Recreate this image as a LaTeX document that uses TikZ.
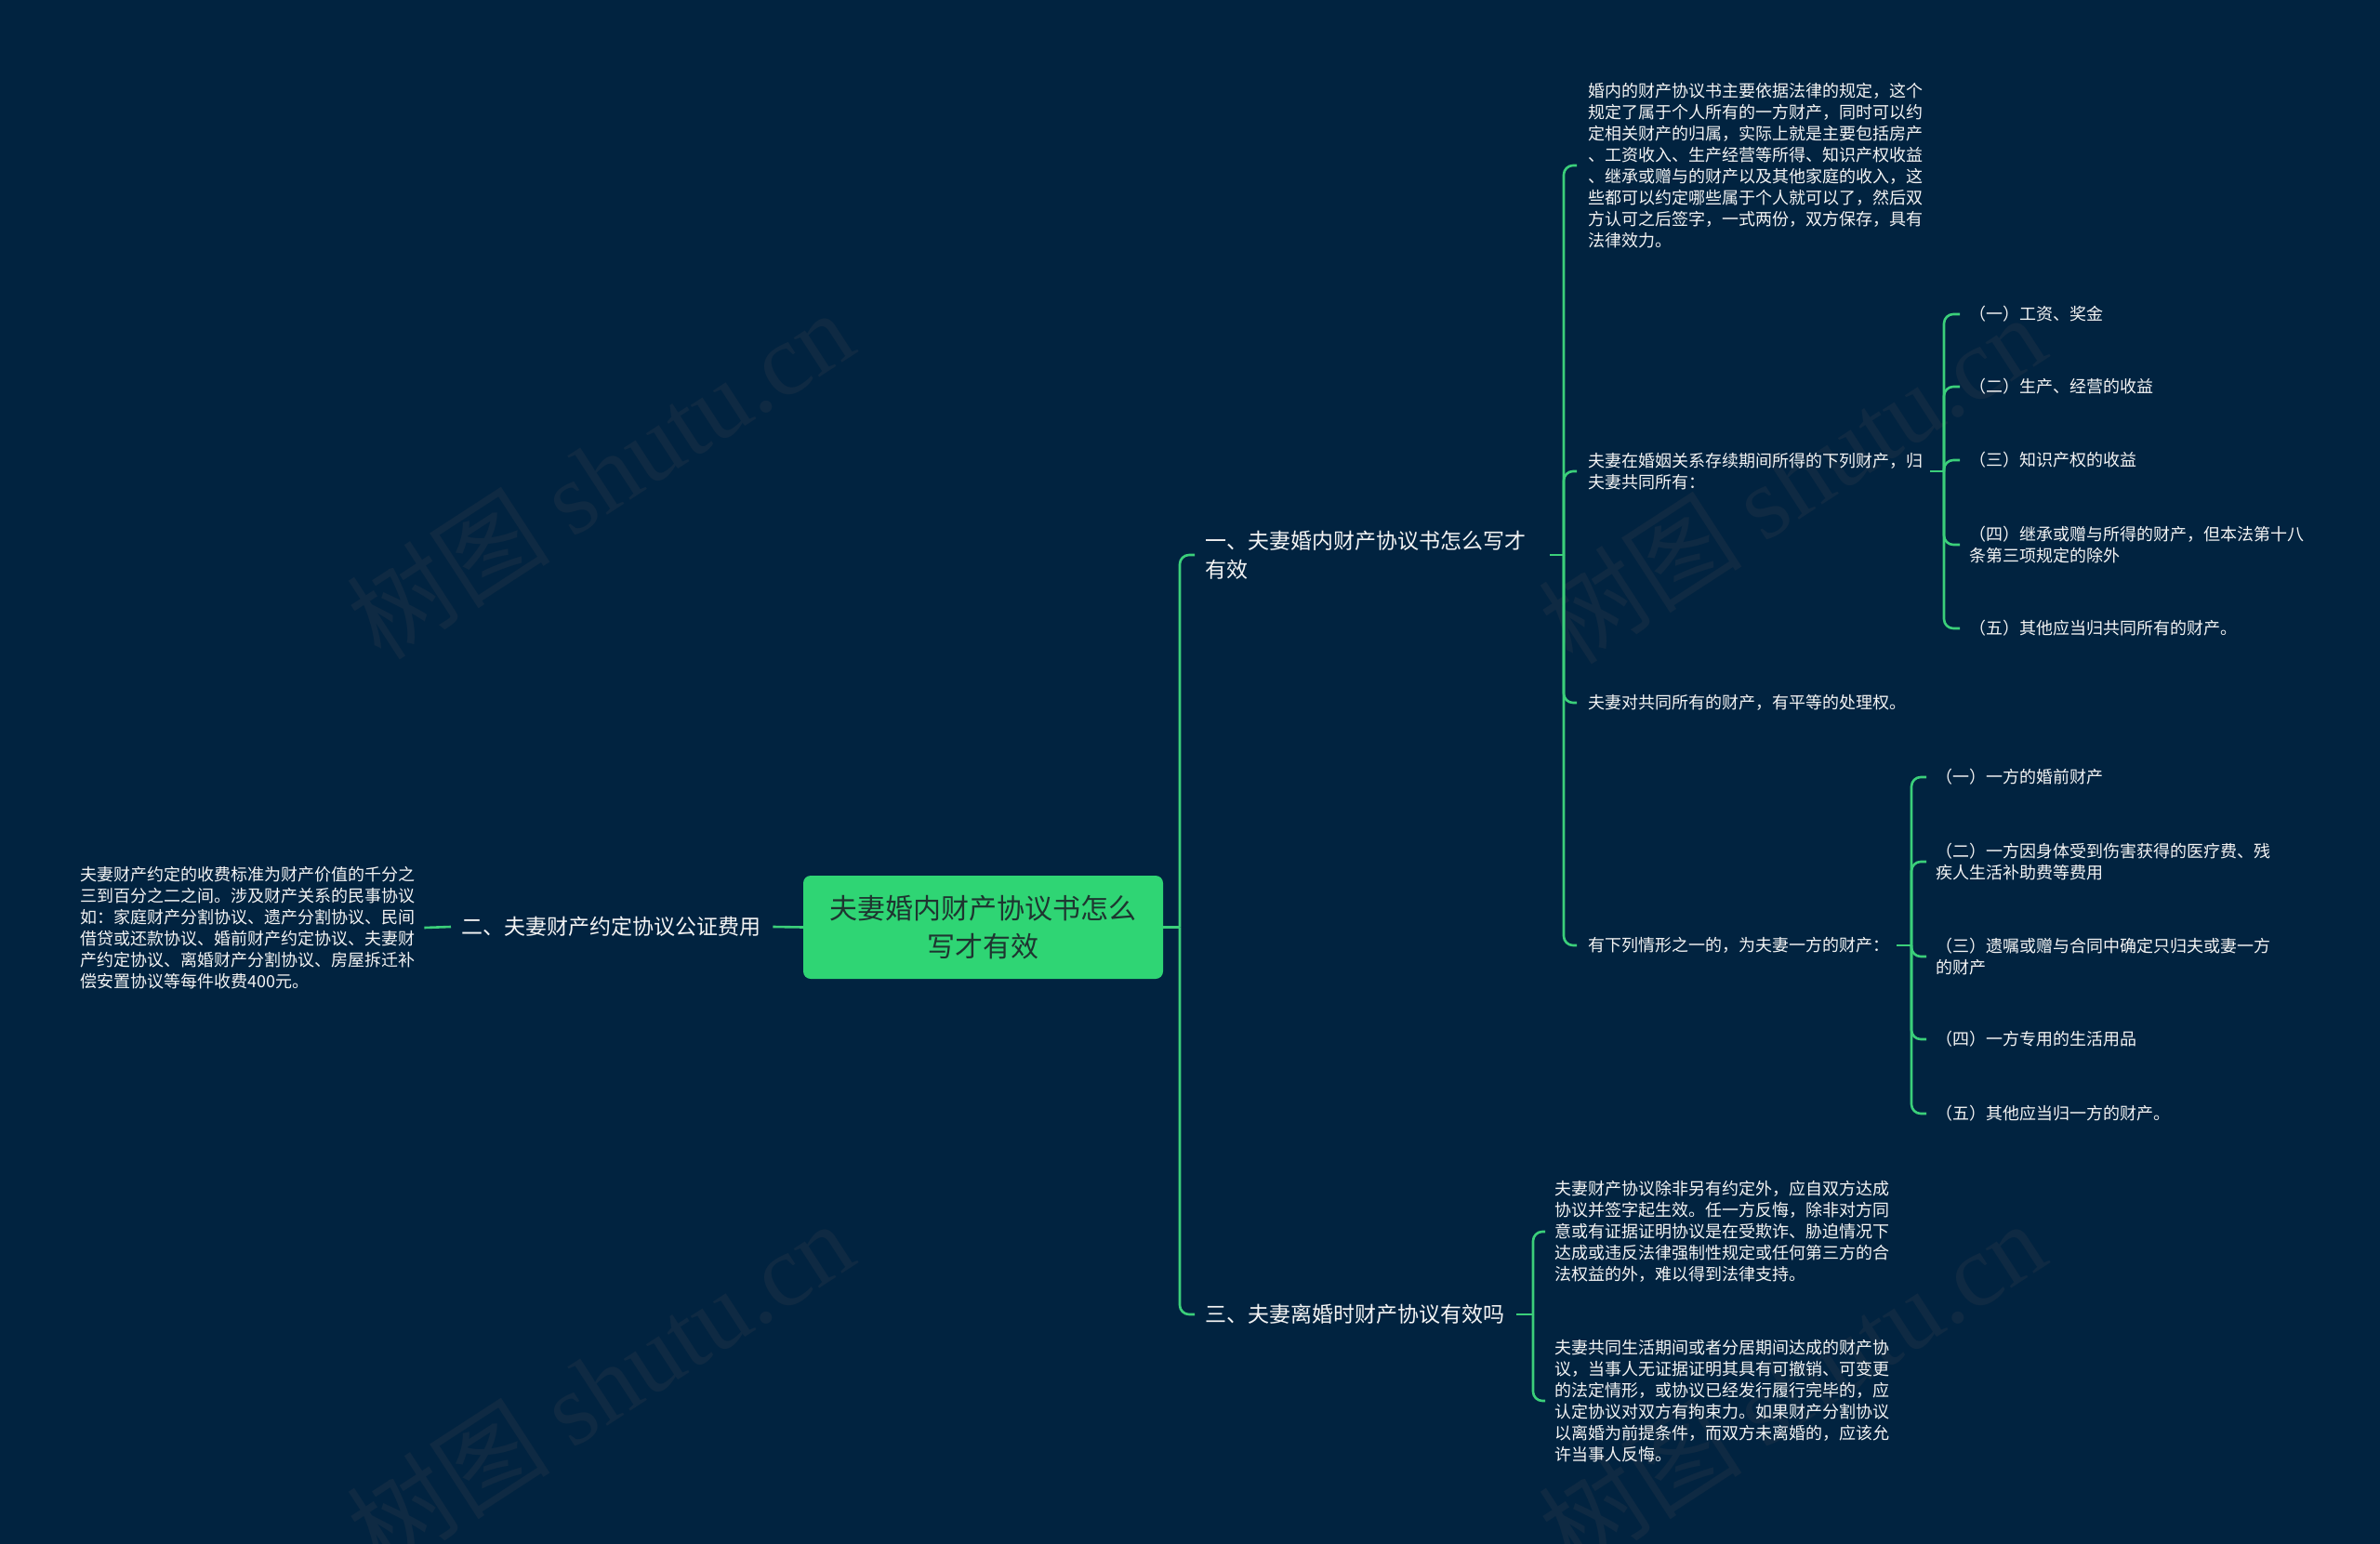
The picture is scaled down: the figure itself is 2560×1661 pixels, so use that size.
\documentclass[tikz,border=0pt]{standalone}
\usepackage{fontspec}
\setmainfont{Noto Sans CJK SC}
\newfontfamily\cjk{Noto Sans CJK SC}
\newfontfamily\wmfont{Liberation Serif}
\definecolor{bgc}{HTML}{012340}
\definecolor{lgc}{HTML}{3BCF7A}
\definecolor{rootfill}{HTML}{2FD574}
\definecolor{roottext}{HTML}{1E3530}
\definecolor{txc}{HTML}{F4F4F4}
\definecolor{wmc}{HTML}{0F2A43}
\tikzset{
  leafnode/.style={anchor=west, inner sep=0pt, align=left, text=txc, font=\fontsize{18}{23}\selectfont},
  mainnode/.style={anchor=west, inner sep=0pt, align=left, text=txc, font=\fontsize{23}{31}\selectfont},
  rootnode/.style={fill=rootfill, rounded corners=8pt, minimum width=387pt, minimum height=111pt, align=center, text=roottext, font=\fontsize{30}{41}\selectfont, inner sep=0pt},
  conn/.style={draw=lgc, line width=2.6pt, rounded corners=10pt},
  wmnode/.style={text=wmc, font=\fontsize{110}{110}\selectfont, inner sep=0pt, rotate=33}
}
\begin{document}
\begin{tikzpicture}[x=1pt,y=-1pt]
\fill[bgc] (0,0) rectangle (2560,1661);
\useasboundingbox (0,0) rectangle (2560,1661);
% watermarks
\node[wmnode] (w1) at (645,510) {{\cjk 树图} {\wmfont shutu.cn}};
\node[wmnode] (w2) at (1927,515) {{\cjk 树图} {\wmfont shutu.cn}};
\node[wmnode] (w3) at (645,1490) {{\cjk 树图} {\wmfont shutu.cn}};
\node[wmnode] (w4) at (1927,1490) {{\cjk 树图} {\wmfont shutu.cn}};
% root
\node[rootnode] (root) at (1057.5,997.5) {夫妻婚内财产协议书怎么\\写才有效};
% main branches
\node[mainnode] (L1) at (1296,597) {一、夫妻婚内财产协议书怎么写才\\有效};
\node[mainnode] (L2) at (496,997) {二、夫妻财产约定协议公证费用};
\node[mainnode] (L3) at (1296,1414) {三、夫妻离婚时财产协议有效吗};
% L2 leaf
\node[leafnode] (L2a) at (86,998) {夫妻财产约定的收费标准为财产价值的千分之\\三到百分之二之间。涉及财产关系的民事协议\\如：家庭财产分割协议、遗产分割协议、民间\\借贷或还款协议、婚前财产约定协议、夫妻财\\产约定协议、离婚财产分割协议、房屋拆迁补\\偿安置协议等每件收费400元。};
% L1 children
\node[leafnode] (a) at (1708,178) {婚内的财产协议书主要依据法律的规定，这个\\规定了属于个人所有的一方财产，同时可以约\\定相关财产的归属，实际上就是主要包括房产\\、工资收入、生产经营等所得、知识产权收益\\、继承或赠与的财产以及其他家庭的收入，这\\些都可以约定哪些属于个人就可以了，然后双\\方认可之后签字，一式两份，双方保存，具有\\法律效力。};
\node[leafnode] (b) at (1708,507) {夫妻在婚姻关系存续期间所得的下列财产，归\\夫妻共同所有：};
\node[leafnode] (c) at (1708,756) {夫妻对共同所有的财产，有平等的处理权。};
\node[leafnode] (d) at (1708,1017) {有下列情形之一的，为夫妻一方的财产：};
% b children
\node[leafnode] (b1) at (2118,338) {（一）工资、奖金};
\node[leafnode] (b2) at (2118,416) {（二）生产、经营的收益};
\node[leafnode] (b3) at (2118,495) {（三）知识产权的收益};
\node[leafnode] (b4) at (2118,586) {（四）继承或赠与所得的财产，但本法第十八\\条第三项规定的除外};
\node[leafnode] (b5) at (2118,676) {（五）其他应当归共同所有的财产。};
% d children
\node[leafnode] (d1) at (2082,836) {（一）一方的婚前财产};
\node[leafnode] (d2) at (2082,927) {（二）一方因身体受到伤害获得的医疗费、残\\疾人生活补助费等费用};
\node[leafnode] (d3) at (2082,1029) {（三）遗嘱或赠与合同中确定只归夫或妻一方\\的财产};
\node[leafnode] (d4) at (2082,1118) {（四）一方专用的生活用品};
\node[leafnode] (d5) at (2082,1198) {（五）其他应当归一方的财产。};
% L3 children
\node[leafnode] (e1) at (1672,1325) {夫妻财产协议除非另有约定外，应自双方达成\\协议并签字起生效。任一方反悔，除非对方同\\意或有证据证明协议是在受欺诈、胁迫情况下\\达成或违反法律强制性规定或任何第三方的合\\法权益的外，难以得到法律支持。};
\node[leafnode] (e2) at (1672,1507) {夫妻共同生活期间或者分居期间达成的财产协\\议，当事人无证据证明其具有可撤销、可变更\\的法定情形，或协议已经发行履行完毕的，应\\认定协议对双方有拘束力。如果财产分割协议\\以离婚为前提条件，而双方未离婚的，应该允\\许当事人反悔。};
% junctions
\coordinate (jR) at (1269,997.5);
\coordinate (j1) at (1682,597);
\coordinate (jb) at (2091,507);
\coordinate (jd) at (2056,1017);
\coordinate (j3) at (1649,1414);
% connectors
\draw[conn] (root.east) -- (jR);
\draw[conn] (jR) |- ([xshift=-11pt]L1.west);
\draw[conn] (jR) |- ([xshift=-11pt]L3.west);
\draw[conn] (root.west) -- ([xshift=13pt]L2.east);
\draw[conn] ([xshift=-11pt]L2.west) -- ([xshift=10pt]L2a.east);
\draw[conn] ([xshift=26pt]L1.east) -- (j1);
\foreach \n in {a,b,c,d}{\draw[conn] (j1) |- ([xshift=-12pt]\n.west);}
\draw[conn] ([xshift=8pt]b.east) -- (jb);
\foreach \n in {b1,b2,b3,b4,b5}{\draw[conn] (jb) |- ([xshift=-10pt]\n.west);}
\draw[conn] ([xshift=8pt]d.east) -- (jd);
\foreach \n in {d1,d2,d3,d4,d5}{\draw[conn] (jd) |- ([xshift=-10pt]\n.west);}
\draw[conn] ([xshift=13pt]L3.east) -- (j3);
\foreach \n in {e1,e2}{\draw[conn] (j3) |- ([xshift=-10pt]\n.west);}
\end{tikzpicture}
\end{document}
